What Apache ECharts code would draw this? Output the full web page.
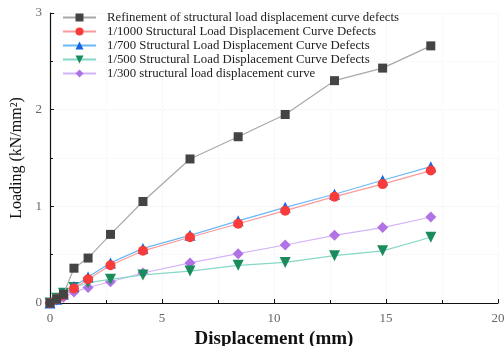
<!DOCTYPE html>
<html><head><meta charset="utf-8">
<script src="https://cdn.jsdelivr.net/npm/echarts@6/dist/echarts.min.js"></script>
<style>html,body{margin:0;padding:0;background:#fff}#c{width:504px;height:346px}</style>
</head><body><div id="c"></div>
<script>
const displacement = [0, 0.3, 0.6, 1.07, 1.7, 2.7, 4.15, 6.25, 8.4, 10.5, 12.7, 14.85, 17];
const refined = [0, 0.04, 0.09, 0.36, 0.465, 0.71, 1.05, 1.49, 1.72, 1.95, 2.30, 2.43, 2.66];
const d1000 = [0, 0.04, 0.08, 0.15, 0.245, 0.39, 0.54, 0.68, 0.82, 0.955, 1.10, 1.23, 1.37];
const d700 = [0, 0.04, 0.09, 0.17, 0.27, 0.415, 0.565, 0.70, 0.85, 0.99, 1.125, 1.27, 1.41];
const d500 = [0, 0.05, 0.10, 0.16, 0.21, 0.245, 0.29, 0.33, 0.39, 0.42, 0.49, 0.54, 0.68];
const d300 = [0, 0.03, 0.06, 0.115, 0.16, 0.22, 0.31, 0.415, 0.51, 0.60, 0.70, 0.78, 0.89];
const names = [
  'Refinement of structural load displacement curve defects',
  '1/1000 Structural Load Displacement Curve Defects',
  '1/700 Structural Load Displacement Curve Defects',
  '1/500 Structural Load Displacement Curve Defects',
  '1/300 structural load displacement curve'
];
const xTicks = [0, 5, 10, 15, 20];
const yTicks = [0, 1, 2, 3];

const serif = '"Liberation Serif", "DejaVu Serif", serif';
const pair = arr => displacement.map((x, i) => [x, arr[i]]);
const styles = [
  {data: refined, symbol: 'rect', size: 9, mk: '#444444', ln: '#a8a8a8'},
  {data: d1000, symbol: 'circle', size: 10, mk: '#f83c3c', ln: '#fa9a9a'},
  {data: d700, symbol: 'triangle', size: 11, mk: '#1566e0', ln: '#6cb8f8'},
  {data: d500, symbol: 'path://M0,0 L10,0 L5,9 Z', size: 11, mk: '#1a8c5c', ln: '#86d8c6'},
  {data: d300, symbol: 'diamond', size: 11, mk: '#b072e4', ln: '#d4b4fa'}
];
const chart = echarts.init(document.getElementById('c'));
chart.setOption({
  animation: false,
  grid: {left: 50, right: 6, top: 13, bottom: 43, outerBoundsMode: 'none', containLabel: false},
  legend: {
    left: 62, top: 11, orient: 'vertical', itemGap: 1, itemWidth: 33, itemHeight: 10,
    padding: 0,
    textStyle: {fontFamily: serif, fontSize: 12.8, color: '#222', padding: [0, 0, 0, 6]},
    data: names
  },
  xAxis: {
    type: 'value', min: 0, max: 20, interval: 5,
    name: 'Displacement (mm)', nameLocation: 'middle', nameGap: 21,
    nameTextStyle: {fontFamily: serif, fontSize: 19, fontWeight: 'bold', color: '#111'},
    axisLine: {lineStyle: {color: '#111', width: 1.2}},
    axisTick: {inside: true, length: 4, lineStyle: {color: '#111'}},
    minorTick: {show: true, splitNumber: 2, length: 3, lineStyle: {color: '#111'}},
    axisLabel: {fontFamily: serif, fontSize: 13, color: '#666', margin: 9,
      formatter: v => xTicks.includes(v) ? String(v) : ''},
    splitLine: {show: true, lineStyle: {color: '#f0f0f0', type: 'dotted'}},
    minorSplitLine: {show: true, lineStyle: {color: '#f4f4f4', type: 'dotted'}}
  },
  yAxis: {
    type: 'value', min: 0, max: 3, interval: 1,
    name: 'Loading (kN/mm²)', nameLocation: 'middle', nameGap: 24,
    nameTextStyle: {fontFamily: serif, fontSize: 16, color: '#111'},
    axisLine: {show: true, lineStyle: {color: '#111', width: 1.2}},
    axisTick: {show: true, inside: true, length: 4, lineStyle: {color: '#111'}},
    minorTick: {show: true, splitNumber: 2, length: 3, lineStyle: {color: '#111'}},
    axisLabel: {fontFamily: serif, fontSize: 13, color: '#666', margin: 8,
      formatter: v => yTicks.includes(v) ? String(v) : ''},
    splitLine: {show: true, lineStyle: {color: '#f0f0f0', type: 'dotted'}},
    minorSplitLine: {show: true, lineStyle: {color: '#f4f4f4', type: 'dotted'}}
  },
  series: styles.map((s, i) => ({
    name: names[i], type: 'line', data: pair(s.data),
    symbol: s.symbol, symbolSize: s.size, showAllSymbol: true,
    itemStyle: {color: s.mk},
    lineStyle: {color: s.ln, width: 1.2},
    z: 10 - i
  }))
});
</script></body></html>
